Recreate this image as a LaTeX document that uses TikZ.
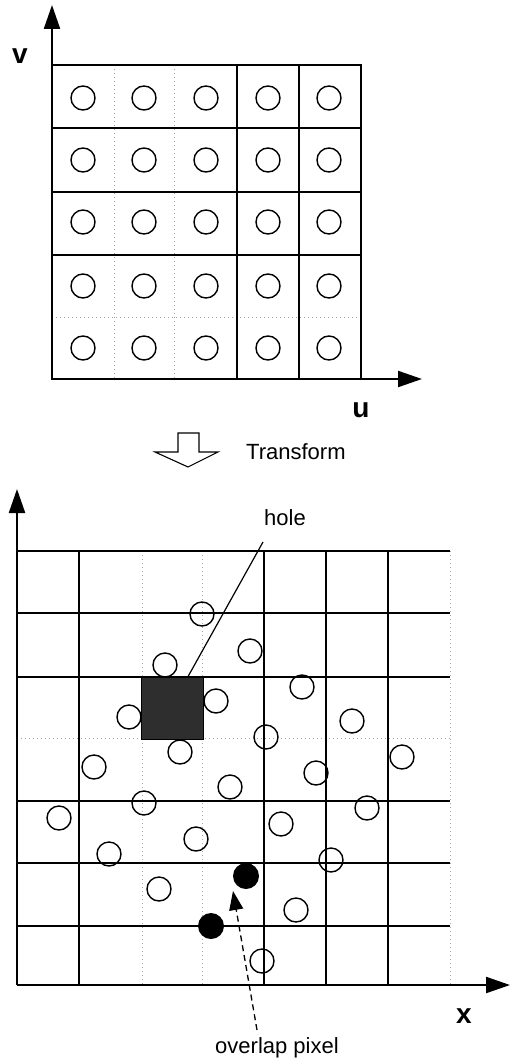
\documentclass[tikz,border=0pt]{standalone}
\usepackage{fontspec}
\newfontfamily\lab{Liberation Sans}
\usetikzlibrary{arrows.meta}
\tikzset{
  axis/.style={line width=2.2pt, -{Triangle[length=24pt,width=16pt]}},
  gridline/.style={line width=1.3pt},
  faint/.style={line width=0.9pt, gray!70, dash pattern=on 1.2pt off 2.8pt},
  ring/.style={circle, draw, line width=1.4pt, minimum size=24pt, inner sep=0pt},
  blob/.style={circle, fill=black, minimum size=26pt, inner sep=0pt},
  caption/.style={font=\lab\fontsize{22}{26}\selectfont, inner sep=0pt},
  axislabel/.style={font=\lab\bfseries\fontsize{28}{32}\selectfont, inner sep=0pt},
}
\begin{document}
\begin{tikzpicture}[x=1pt, y=-1pt]
\useasboundingbox (0,0) rectangle (517,1062);

% ---------- source grid (u,v) ----------
\foreach \x in {114,174} \draw[faint] (\x,65) -- (\x,379);
\draw[faint] (52,317) -- (361,317);
\foreach \x in {237,299} \draw[gridline] (\x,65) -- (\x,379);
\foreach \y in {128,192,255} \draw[gridline] (52,\y) -- (361,\y);
\draw[gridline] (52,65) rectangle (361,379);

\foreach \x [count=\i] in {83,144,206,268,329}
  \foreach \y [count=\j] in {98,160,222,286,348}
    \node[ring] (s\i\j) at (\x,\y) {};

\coordinate (o1) at (52,379);
\coordinate (vtip) at (52,5);
\coordinate (utip) at (422,379);
\draw[axis] (o1) -- (vtip);
\draw[axis] (o1) -- (utip);
\node[axislabel] (vlab) at (20,56) {v};
\node[axislabel] (ulab) at (361,410) {u};

% ---------- transform arrow ----------
\draw[line width=1.1pt, line join=miter]
  (178,433) -- (199,433) -- (199,452) -- (218,452) -- (188,467)
  -- (155,452) -- (178,452) -- cycle;
\node[caption, anchor=west] (tr) at (246,452) {Transform};

% ---------- target grid (x,y) ----------
\foreach \x in {142,202,450} \draw[faint] (\x,551) -- (\x,985);
\draw[faint] (17,738) -- (450,738);
\foreach \x in {79,264,326,388} \draw[gridline] (\x,551) -- (\x,985);
\foreach \y in {551,613,677,801,863,926} \draw[gridline] (17,\y) -- (450,\y);

% transformed sample positions
\foreach \x/\y [count=\k] in {
  202/614, 250/651, 165/665, 302/687, 216/701, 129/717, 352/721,
  266/737, 180/752, 402/757, 94/767, 316/773, 230/787, 144/803,
  367/808, 59/818, 281/824, 196/839, 109/854, 331/860, 159/889,
  296/910, 262/961}
  \node[ring] (p\k) at (\x,\y) {};

% two samples falling on the same pixel
\node[blob] (ov1) at (246,876) {};
\node[blob] (ov2) at (211,926) {};

% empty pixel
\node[fill=black!82, draw=black, line width=0.8pt, minimum size=62pt,
      inner sep=0pt] (hole) at (172,708) {};

\coordinate (o2) at (17,985);
\coordinate (ytip) at (17,489);
\coordinate (xtip) at (510,985);
\draw[axis] (o2) -- (ytip);
\draw[axis] (o2) -- (xtip);
\node[axislabel] (xlab) at (464,1016) {x};

% annotations
\node[caption] (holelab) at (285,518) {hole};
\coordinate (holefoot) at (263,542);
\draw[line width=1.2pt] (holefoot) -- ([xshift=16pt]hole.north);

\node[caption] (ovlab) at (277,1048) {overlap pixel};
\coordinate (ovfoot) at (257,1030);
\coordinate (ovtip) at (233,891);
\draw[line width=1.3pt, dash pattern=on 6pt off 4pt,
      -{Triangle[length=19pt,width=14pt]}] (ovfoot) -- (ovtip);
\end{tikzpicture}
\end{document}
